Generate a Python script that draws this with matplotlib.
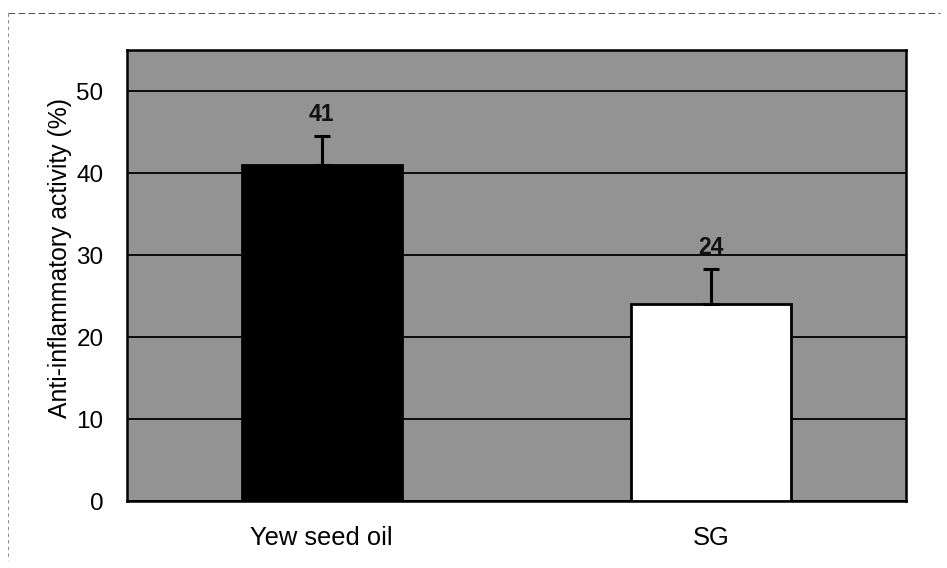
import numpy as np
import matplotlib.pyplot as plt
from matplotlib.lines import Line2D

# data
categories = ['Yew seed oil', 'SG']
values = [41, 24]
errors = [3.5, 4.3]
labels = ['41', '24']
bar_colors = ['black', 'white']
yticks = [0, 10, 20, 30, 40, 50]

plt.rcParams['font.family'] = ['Liberation Sans', 'DejaVu Sans']

fig = plt.figure(figsize=(9.47, 5.68), dpi=100)
ax = fig.add_axes([127/947, 1-501/568, 779/947, 451/568])

ax.set_facecolor('#939393')
x = np.arange(len(categories))
ax.bar(x, values, width=0.41, color=bar_colors, edgecolor='black', linewidth=2, zorder=3)
ax.errorbar(x, values, yerr=[[0, 0], errors], fmt='none', ecolor='black',
            elinewidth=2.2, capsize=5.5, capthick=2.2, zorder=4)
for xi, v, e, lab in zip(x, values, errors, labels):
    ax.text(xi, v + e + 2.6, lab, ha='center', va='center', fontsize=16.5,
            fontweight='bold', color='#111111', zorder=5)

ax.set_xlim(-0.5, 1.5)
ax.set_ylim(0, 55)
ax.set_yticks(yticks)
ax.set_xticks(x)
ax.set_xticklabels(categories, fontsize=18.4)
ax.tick_params(axis='both', length=0)
ax.tick_params(axis='y', labelsize=17.5, pad=17)
ax.tick_params(axis='x', pad=18)
ax.yaxis.grid(True, color='black', linewidth=1.3, zorder=1)
ax.set_axisbelow(True)
for s in ax.spines.values():
    s.set_linewidth(1.8)
    s.set_color('black')
ax.set_ylabel('Anti-inflammatory activity (%)', fontsize=17.8)
ax.yaxis.set_label_coords((60 - 127) / 779, (501 - 258) / 451)
ax.yaxis.label.set_va('center')

# dashed scan border
fig.add_artist(Line2D([8/947, 940/947], [1-13/568, 1-13/568], color='#555555',
                      linewidth=0.8, linestyle=(0, (6, 3))))
fig.add_artist(Line2D([8/947, 8/947], [1-13/568, 1-560/568], color='#777777',
                      linewidth=0.6, linestyle=(0, (4, 4))))

fig.savefig('out.png', dpi=100)
